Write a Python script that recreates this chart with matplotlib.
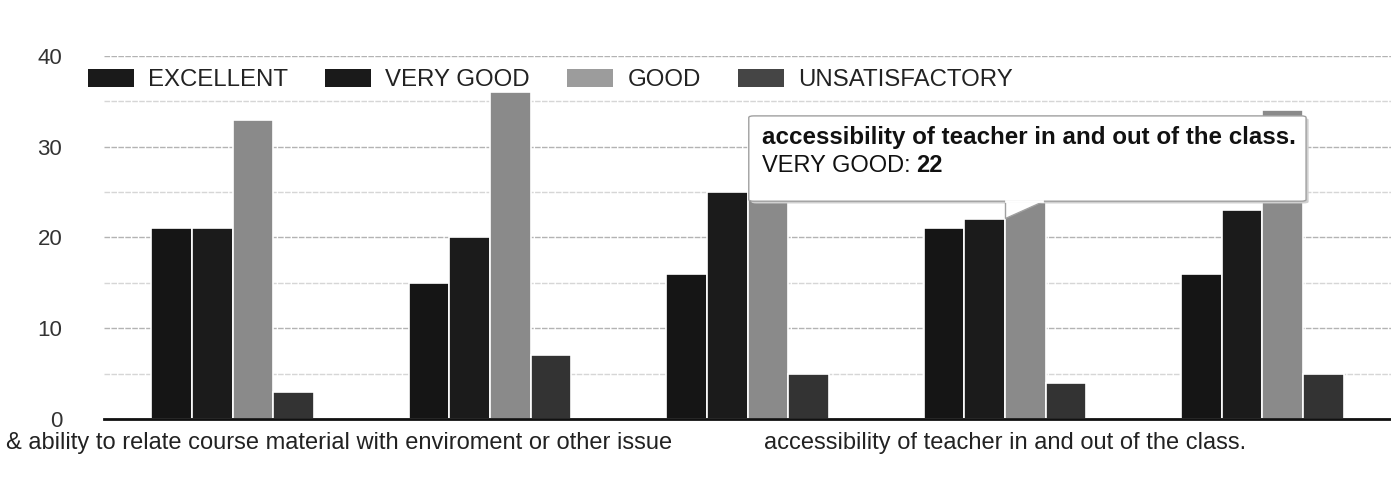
import matplotlib
matplotlib.use("Agg")
import matplotlib.pyplot as plt
import numpy as np
from matplotlib.patches import FancyBboxPatch, Polygon, Patch

plt.rcParams['font.family'] = ['Liberation Sans', 'DejaVu Sans']

# ---- data ----
tick_labels = ['& ability to relate course material with enviroment or other issue',
               '', '',
               'accessibility of teacher in and out of the class.',
               '']
series_names = ['EXCELLENT', 'VERY GOOD', 'GOOD', 'UNSATISFACTORY']
excellent = [21, 15, 16, 21, 16]
very_good = [21, 20, 25, 22, 23]
good = [33, 36, 31, 30, 34]
unsatisfactory = [3, 7, 5, 4, 5]
y_ticks = [0, 10, 20, 30, 40]

bar_colors = ['#151515', '#1b1b1b', '#8a8a8a', '#333333']
legend_colors = ['#1a1a1a', '#1a1a1a', '#9c9c9c', '#454545']

W, H = 1391, 496
fig = plt.figure(figsize=(W / 100, H / 100), dpi=100)
fig.patch.set_facecolor('white')
ax = fig.add_axes([104 / W, 1 - 419 / H, 1287 / W, (419 - 56) / H])

x = np.arange(len(tick_labels))
bw = 0.158
all_series = [excellent, very_good, good, unsatisfactory]
for i, (vals, col) in enumerate(zip(all_series, bar_colors)):
    ax.bar(x + (i - 1.5) * bw, vals, width=bw, color=col,
           edgecolor='white', linewidth=1.2, zorder=2)

ax.set_xlim(-0.5, 4.5)
ax.set_ylim(0, 40)
ax.set_yticks(y_ticks)
ax.set_yticks([5, 15, 25, 35], minor=True)
ax.grid(axis='y', which='major', color='#b3b3b3', linewidth=1.0, linestyle=(0, (4, 1)))
ax.grid(axis='y', which='minor', color='#d6d6d6', linewidth=1.0, linestyle=(0, (4, 1)))
ax.set_axisbelow(True)
for s in ['top', 'right', 'left']:
    ax.spines[s].set_visible(False)
ax.spines['bottom'].set_color('#111111')
ax.spines['bottom'].set_linewidth(2)
ax.spines['bottom'].set_zorder(3)
ax.tick_params(axis='y', which='both', length=0, pad=30, labelsize=16, labelcolor='#333333')
ax.set_xticks([])

# category labels (only some are shown in the reference; the first one is
# left-aligned near the figure edge, as in the reference)
label_layout = {0: ('left', -227), 3: ('center', 0)}
for i, lab in enumerate(tick_labels):
    if lab:
        ha, dx = label_layout.get(i, ('center', 0))
        ax.annotate(lab, xy=(x[i], 0), xycoords=('data', 'axes fraction'),
                    xytext=(dx, -13), textcoords='offset pixels',
                    ha=ha, va='top', fontsize=17, color='#222222')

# legend
handles = [Patch(facecolor=c, edgecolor='none') for c in legend_colors]
leg = fig.legend(handles, series_names, loc='center left',
                 bbox_to_anchor=(88 / W, 1 - 80 / H), ncol=4, frameon=False,
                 fontsize=17.3, handlelength=1.9, handleheight=0.75,
                 handletextpad=0.6, columnspacing=1.55, borderpad=0,
                 borderaxespad=0)
for t in leg.get_texts():
    t.set_color('#222222')

# tooltip for accessibility / VERY GOOD
ti = 3
tip_x = x[ti]  # right edge of the VERY GOOD bar in this group
tip_y = very_good[ti]
box_x0, box_x1 = 2.005, 4.17
box_y0, box_y1 = tip_y + 2.0, tip_y + 11.4
shadow = FancyBboxPatch((box_x0 + 0.01, box_y0 - 0.25), box_x1 - box_x0, box_y1 - box_y0,
                        boxstyle='round,pad=0,rounding_size=0.02', facecolor='#d0d0d0',
                        edgecolor='none', zorder=4, mutation_aspect=9)
ax.add_patch(shadow)
box = FancyBboxPatch((box_x0, box_y0), box_x1 - box_x0, box_y1 - box_y0,
                     boxstyle='round,pad=0,rounding_size=0.02', facecolor='white',
                     edgecolor='#a0a0a0', linewidth=1.0, zorder=5, mutation_aspect=9)
ax.add_patch(box)
ptr = Polygon([(tip_x, tip_y + 0.1), (tip_x, box_y0), (tip_x + 0.147, box_y0)],
              closed=True, facecolor='white', edgecolor='#a0a0a0', linewidth=1.0, zorder=5)
ax.add_patch(ptr)
ax.plot([tip_x + 0.004, tip_x + 0.143], [box_y0, box_y0], color='white', linewidth=2, zorder=6)

t1 = ax.text(box_x0 + 0.05, box_y1 - 2.4, tick_labels[ti], fontsize=17.4, fontweight='bold',
             color='#111111', ha='left', va='center', zorder=7)
t2 = ax.text(box_x0 + 0.05, box_y1 - 5.5, series_names[1] + ':', fontsize=17,
             color='#111111', ha='left', va='center', zorder=7)
ax.annotate(str(very_good[ti]), xy=(1, 0.5), xycoords=t2, xytext=(6, 0),
            textcoords='offset pixels', ha='left', va='center',
            fontsize=17, fontweight='bold', color='#111111', zorder=7)

fig.savefig('out.png', dpi=100, facecolor='white')
